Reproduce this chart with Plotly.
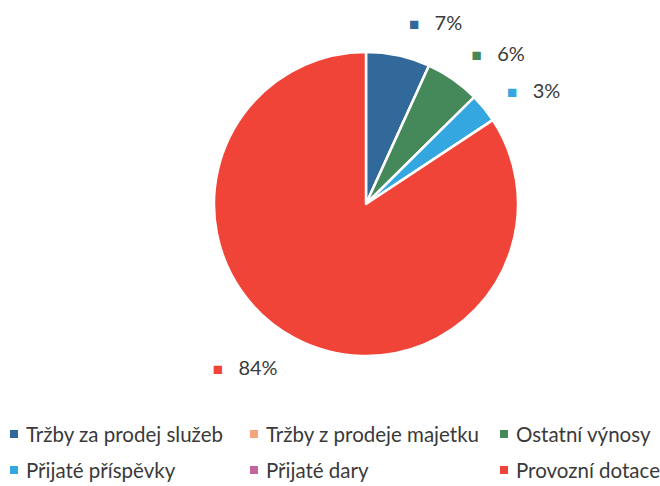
import plotly.graph_objects as go

# ---- data ----
categories = ["Tržby za prodej služeb", "Tržby z prodeje majetku", "Ostatní výnosy",
              "Přijaté příspěvky", "Přijaté dary", "Provozní dotace"]
values = [6.8, 0.0, 5.8, 3.1, 0.0, 84.3]

# ---- style ----
colors = ["#30699a", "#f4a47a", "#45885a", "#35a7e0", "#c4649a", "#ef4437"]
text_color = "#3a3a3a"
font_family = "Lato, 'Noto Sans', sans-serif"

W, H = 660, 486
total = sum(values)
labels_txt = [
    (f"<span style='font-size:17px;color:{c}'>■</span>&nbsp;&nbsp;&nbsp;"
     f"{round(v / total * 100):.0f}%" if v > 0 else "")
    for v, c in zip(values, colors)
]

# pie geometry (pixels) -> domain
cx, cy, r = 366, 204, 152
r_lab = 174  # radius at which the outside data labels are anchored


def domain(radius):
    return dict(x=[(cx - radius) / W, (cx + radius) / W],
                y=[(H - cy - radius) / H, (H - cy + radius) / H])


fig = go.Figure()
# label carrier: same slices, transparent, slightly larger radius
fig.add_trace(go.Pie(
    labels=categories,
    values=values,
    sort=False,
    direction="clockwise",
    rotation=0,
    marker=dict(colors=["rgba(0,0,0,0)"] * len(values), line=dict(width=0)),
    text=labels_txt,
    textinfo="text",
    textposition="outside",
    outsidetextfont=dict(size=20, color=text_color, family=font_family),
    domain=domain(r_lab),
    showlegend=False,
    hoverinfo="skip",
))
# visible pie
fig.add_trace(go.Pie(
    labels=categories,
    values=values,
    sort=False,
    direction="clockwise",
    rotation=0,
    marker=dict(colors=colors, line=dict(color="white", width=2.5)),
    textinfo="none",
    domain=domain(r),
    showlegend=False,
    hoverinfo="label+percent",
))

# ---- legend (grid of 3 columns x 2 rows) ----
col_x = [10, 250, 500]
row_y = [434, 470]
sq = 8
annotations = []
shapes = []
for i, (name, c) in enumerate(zip(categories, colors)):
    x0 = col_x[i % 3]
    y0 = row_y[i // 3]
    shapes.append(dict(type="rect", xref="paper", yref="paper",
                       x0=x0 / W, x1=(x0 + sq) / W,
                       y0=(H - y0 - sq / 2) / H, y1=(H - y0 + sq / 2) / H,
                       fillcolor=c, line=dict(width=0)))
    annotations.append(dict(text=name, xref="paper", yref="paper",
                            x=(x0 + sq + 6) / W, y=(H - y0) / H,
                            xanchor="left", yanchor="middle", showarrow=False,
                            font=dict(size=20.5, color=text_color, family=font_family)))

fig.update_layout(
    width=W, height=H,
    margin=dict(l=0, r=0, t=0, b=0),
    paper_bgcolor="white", plot_bgcolor="white",
    font=dict(family=font_family, color=text_color),
    shapes=shapes,
    annotations=annotations,
)

fig.write_html("out.html", config={"displayModeBar": False},
               post_script="document.body.style.margin='0px';")
